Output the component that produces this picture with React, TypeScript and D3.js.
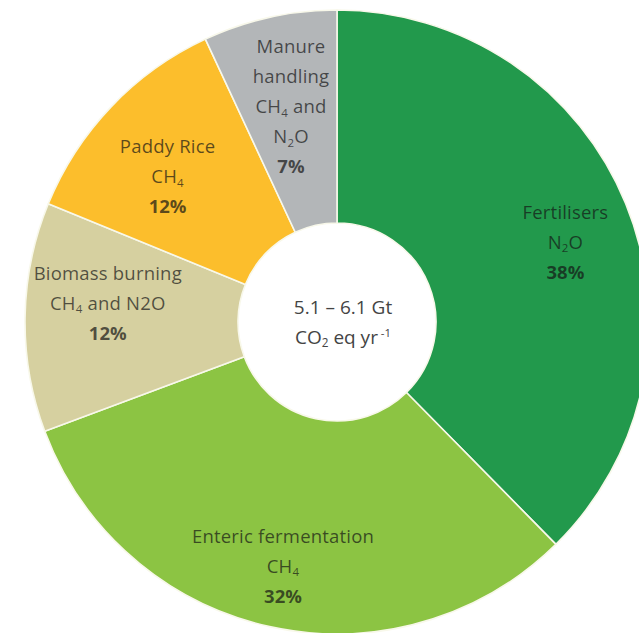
import React, { useEffect, useRef } from 'react';
import * as d3 from 'd3';

// Agricultural non-CO2 emissions by source
const sources = ['Fertilisers', 'Enteric fermentation', 'Biomass burning', 'Paddy Rice', 'Manure handling'];
const gases = ['N_2O', 'CH_4', 'CH_4 and N2O', 'CH_4', 'CH_4 and N_2O'];
const shares = [38, 32, 12, 12, 7];
const totalLines = ['5.1 – 6.1 Gt', 'CO_2 eq yr'];

const palette = ['#22994c', '#8cc443', '#d6d0a0', '#fcbe2c', '#b3b6b8'];

const W = 639;
const H = 633;

// "CH_4" -> CH + subscript 4
function richText(sel: d3.Selection<SVGTextElement, unknown, null, undefined>, str: string) {
  const parts = str.split(/_(\d)/);
  let shifted = false;
  parts.forEach((p, i) => {
    if (p === '') return;
    const isSub = i % 2 === 1;
    const t = sel.append('tspan').text(p);
    if (isSub) {
      t.attr('font-size', '0.62em').attr('dy', '0.3em');
      shifted = true;
    } else if (shifted) {
      t.attr('dy', '-0.186em');
      shifted = false;
    }
  });
}

const App: React.FC = () => {
  const svgRef = useRef<SVGSVGElement>(null);

  useEffect(() => {
    if (!svgRef.current) return;
    const svg = d3.select(svgRef.current);
    svg.selectAll('*').remove();

    const cx = 337;
    const cy = 322;
    const outerR = 312;
    const innerR = 99;
    const lineGap = 30;
    // label block placement: distance from centre and a small turn (degrees) off the slice middle
    const labelRadius = [242, 250, 230, 223, 220];
    const labelTurn = [3, 0, 3.8, -3.1, 0.4];

    const pie = d3.pie<number>().sort(null).value(d => d);
    const arcs = pie(shares);
    const arc = d3.arc<d3.PieArcDatum<number>>().innerRadius(innerR).outerRadius(outerR);

    const g = svg.append('g').attr('transform', `translate(${cx},${cy})`);

    g.selectAll('path.slice')
      .data(arcs)
      .join('path')
      .attr('class', 'slice')
      .attr('d', arc)
      .attr('fill', (_, i) => palette[i])
      .attr('stroke', '#f8f8ea')
      .attr('stroke-width', 1.6);

    arcs.forEach((a, i) => {
      const mid = (a.startAngle + a.endAngle) / 2 + (labelTurn[i] * Math.PI) / 180;
      const lx = labelRadius[i] * Math.sin(mid);
      const ly = -labelRadius[i] * Math.cos(mid);
      const narrow = a.endAngle - a.startAngle < 0.5;

      const splitLast = (s: string) => {
        const k = s.lastIndexOf(' ');
        return k < 0 ? [s] : [s.slice(0, k), s.slice(k + 1)];
      };
      const lines = narrow
        ? [...splitLast(sources[i]), ...splitLast(gases[i])]
        : [sources[i], gases[i]];
      const all = [...lines, `${shares[i]}%`];

      all.forEach((ln, j) => {
        const t = g.append('text')
          .attr('x', lx)
          .attr('y', ly + (j - (all.length - 1) / 2) * lineGap)
          .attr('dy', '0.35em')
          .attr('text-anchor', 'middle')
          .attr('font-family', '"Open Sans", sans-serif')
          .attr('font-size', 18.5)
          .attr('letter-spacing', 0.2)
          .attr('fill', '#141414')
          .attr('fill-opacity', 0.7);
        if (j === all.length - 1) {
          t.attr('font-weight', 700).attr('letter-spacing', 0).text(ln);
        } else {
          t.attr('font-weight', 400);
          richText(t, ln);
        }
      });
    });

    // centre total
    totalLines.forEach((ln, j) => {
      const t = g.append('text')
        .attr('x', 6)
        .attr('y', (j - 0.5) * lineGap)
        .attr('dy', '0.35em')
        .attr('text-anchor', 'middle')
        .attr('font-family', '"Open Sans", sans-serif')
        .attr('font-size', 19)
        .attr('font-weight', 400)
        .attr('fill', '#444');
      richText(t, ln);
      if (j === 1) {
        t.append('tspan').text(' -1').attr('font-size', '0.6em').attr('dy', '-0.55em');
      }
    });
  }, []);

  return (
    <svg
      ref={svgRef}
      width={W}
      height={H}
      viewBox={`0 0 ${W} ${H}`}
      style={{ position: 'absolute', left: 0, top: 0, background: '#fff', overflow: 'hidden' }}
    />
  );
};

export default App;
